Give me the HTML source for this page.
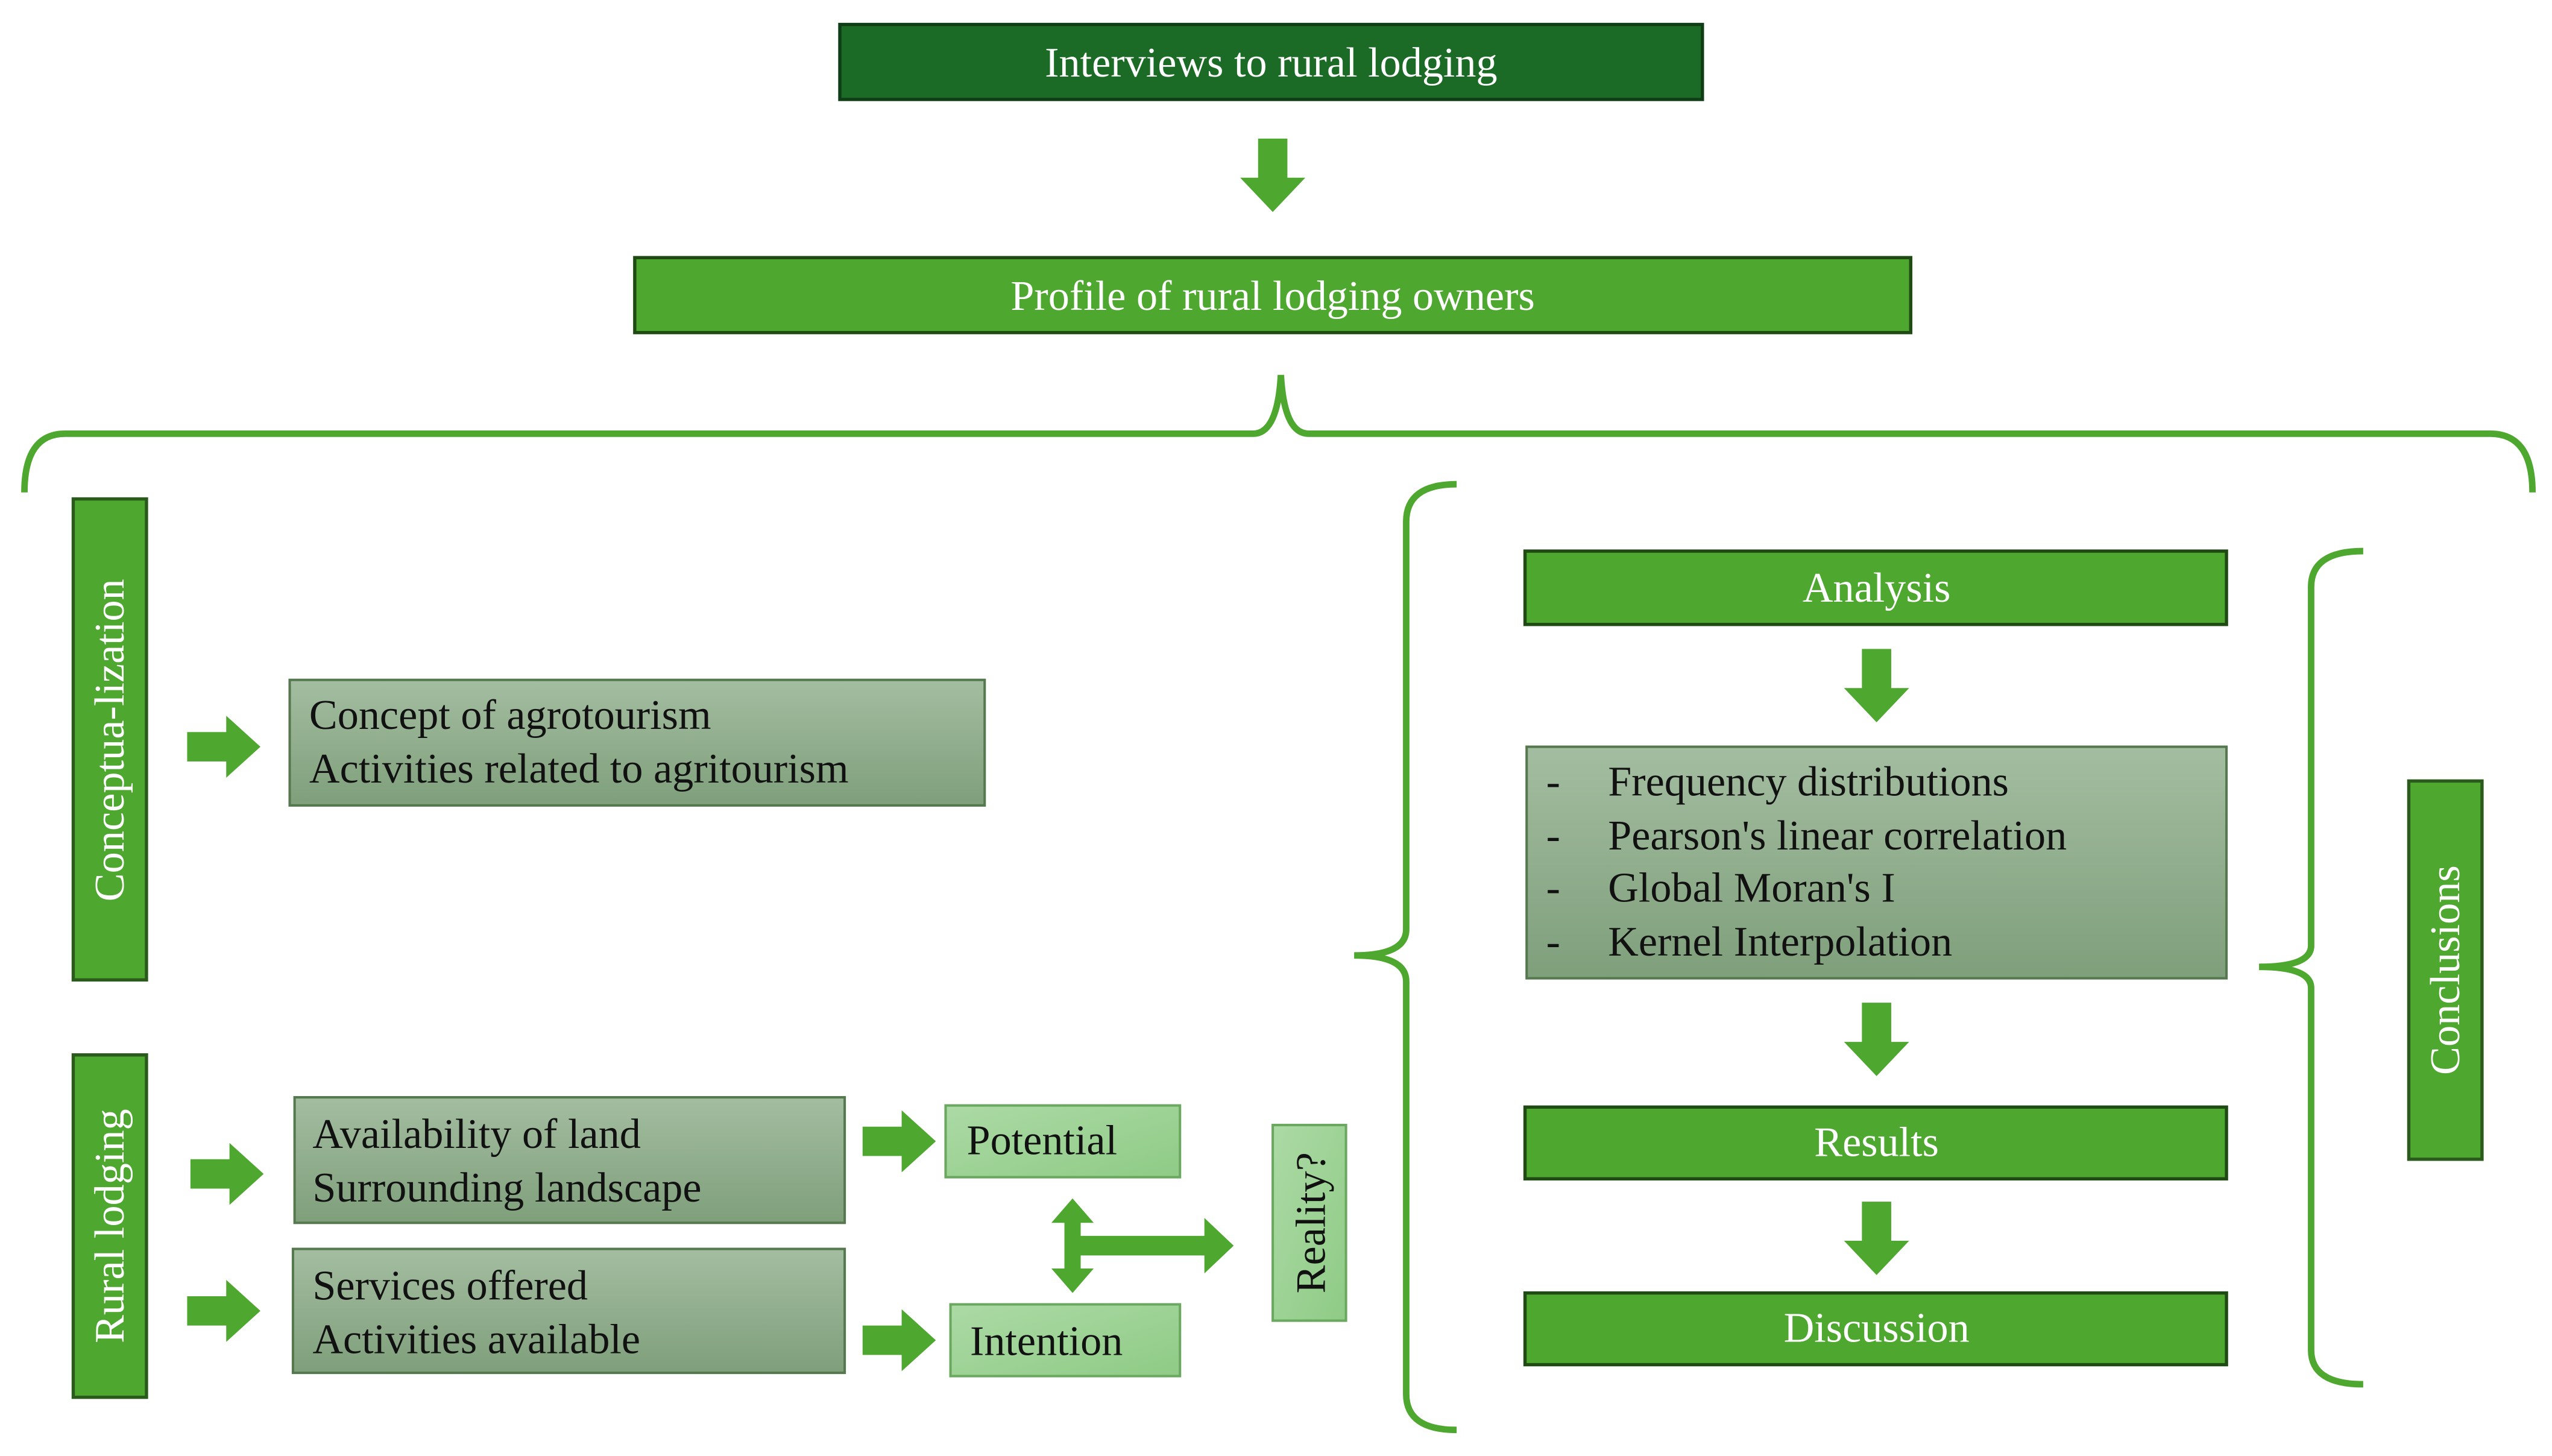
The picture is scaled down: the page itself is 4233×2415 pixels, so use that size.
<!DOCTYPE html>
<html><head><meta charset="utf-8"><style>html,body{margin:0;padding:0;background:#fff}svg{display:block}</style></head><body>
<svg width="4233" height="2415" viewBox="0 0 1568 893" preserveAspectRatio="none" xmlns="http://www.w3.org/2000/svg" font-family="Liberation Serif, serif">
<defs>
<linearGradient id="g" x1="0" y1="0" x2="0" y2="1"><stop offset="0" stop-color="#a3bda0"/><stop offset="1" stop-color="#7f9f7b"/></linearGradient>
<linearGradient id="l" x1="0" y1="0" x2="1" y2="1"><stop offset="0" stop-color="#acdaa5"/><stop offset="1" stop-color="#8fcb86"/></linearGradient>
<g id="ad"><polygon points="-9,0 9,0 9,24 20,24 0,45 -20,24 -9,24" fill="#4ea72e"/></g>
<g id="ar"><polygon points="0,-9 24,-9 24,-19 45,0 24,19 24,9 0,9" fill="#4ea72e"/></g>
</defs>
<g stroke="#3a5a30" stroke-width="1.5">
<rect x="516" y="15" width="530" height="46" fill="#1b6b27" stroke="#0f3d16" stroke-width="2"/>
<rect x="390" y="158" width="784" height="46" fill="#4ea72e" stroke="#1f4a14" stroke-width="2"/>
<rect x="45" y="306" width="45" height="295" fill="#4ea72e" stroke="#2a5a1c" stroke-width="2"/>
<rect x="45" y="647" width="45" height="210" fill="#4ea72e" stroke="#2a5a1c" stroke-width="2"/>
<rect x="178" y="417" width="427" height="77" fill="url(#g)" stroke="#55784e"/>
<rect x="181" y="673" width="338" height="77" fill="url(#g)" stroke="#55784e"/>
<rect x="180" y="766" width="339" height="76" fill="url(#g)" stroke="#55784e"/>
<rect x="581" y="678" width="144" height="44" fill="url(#l)" stroke="#6aa860"/>
<rect x="584" y="800" width="141" height="44" fill="url(#l)" stroke="#6aa860"/>
<rect x="782" y="690" width="45" height="120" fill="url(#l)" stroke="#6aa860"/>
<rect x="937" y="338" width="431" height="45" fill="#4ea72e" stroke="#1f4a14" stroke-width="2"/>
<rect x="938" y="458" width="430" height="142" fill="url(#g)" stroke="#55784e"/>
<rect x="937" y="679" width="431" height="44" fill="#4ea72e" stroke="#1f4a14" stroke-width="2"/>
<rect x="937" y="793" width="431" height="44" fill="#4ea72e" stroke="#1f4a14" stroke-width="2"/>
<rect x="1480" y="479" width="45" height="232" fill="#4ea72e" stroke="#2a5a1c" stroke-width="2"/>
</g>
<g fill="none" stroke="#4ea72e" stroke-width="4">
<path d="M15,302 Q15,266 40,266 L770,266 Q785,266 787,230 Q789,266 804,266 L1530,266 Q1556,266 1556,302"/>
<path d="M895,297 Q864,297 864,320 L864,570 Q864,586 832,586 Q864,586 864,602 L864,855 Q864,877 895,877"/>
<path d="M1452,338 Q1420,338 1420,360 L1420,580 Q1420,593 1388,593 Q1420,593 1420,606 L1420,828 Q1420,849 1452,849"/>
</g>
<use href="#ad" x="782" y="85"/>
<use href="#ad" x="1153" y="398"/>
<use href="#ad" x="1153" y="615"/>
<use href="#ad" x="1153" y="737"/>
<use href="#ar" x="115" y="458"/>
<use href="#ar" x="117" y="720"/>
<use href="#ar" x="115" y="804"/>
<use href="#ar" x="530" y="700"/>
<use href="#ar" x="530" y="822"/>
<polygon points="659,735 672,750 664,750 664,758 740,758 740,747 758,764 740,781 740,770 664,770 664,778 672,778 659,793 646,778 654,778 654,750 646,750" fill="#4ea72e"/>
<g font-size="26" fill="#fff" text-anchor="middle">
<text x="781" y="47">Interviews to rural lodging</text>
<text x="782" y="190">Profile of rural lodging owners</text>
<text x="1153" y="369">Analysis</text>
<text x="1153" y="709">Results</text>
<text x="1153" y="823">Discussion</text>
<text transform="translate(76,454) rotate(-90)">Conceptua-lization</text>
<text transform="translate(76,752) rotate(-90)">Rural lodging</text>
<text transform="translate(1511,595) rotate(-90)">Conclusions</text>
</g>
<g font-size="26" fill="#111">
<text x="190" y="447">Concept of agrotourism</text>
<text x="190" y="480">Activities related to agritourism</text>
<text x="192" y="704">Availability  of land</text>
<text x="192" y="737">Surrounding landscape</text>
<text x="192" y="797">Services offered</text>
<text x="192" y="830">Activities available</text>
<text x="594" y="708">Potential</text>
<text x="596" y="831">Intention</text>
<text transform="translate(814,750) rotate(-90)" text-anchor="middle">Reality?</text>
<text x="950" y="488">-</text><text x="988" y="488">Frequency distributions</text>
<text x="950" y="521">-</text><text x="988" y="521">Pearson's linear correlation</text>
<text x="950" y="553">-</text><text x="988" y="553">Global Moran's I</text>
<text x="950" y="586">-</text><text x="988" y="586">Kernel Interpolation</text>
</g>
</svg>
</body></html>
